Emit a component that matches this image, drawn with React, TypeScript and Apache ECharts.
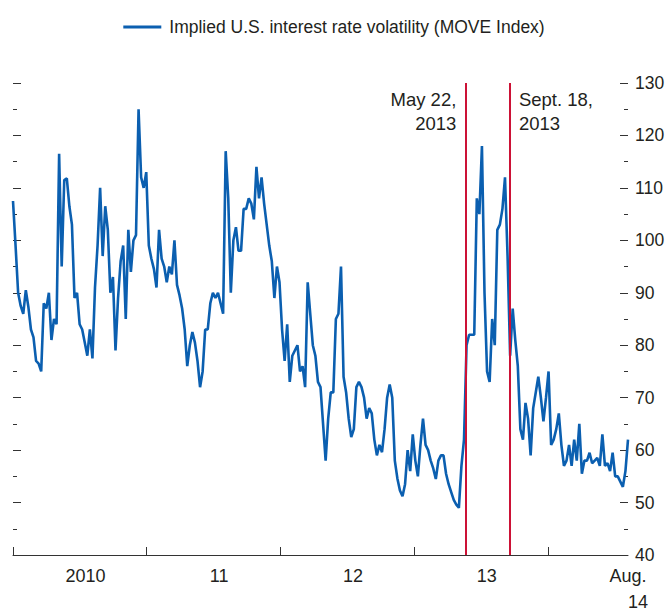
import React, { useEffect, useRef } from 'react';
import * as echarts from 'echarts';

const seriesName = 'Implied U.S. interest rate volatility (MOVE Index)';
const firstWeek = '2010-01-01';
const lastWeek = '2014-08-08';

// Weekly readings of the MOVE index (one value per week from firstWeek)
const move2010 = [
  107.5, 99, 90, 87.5, 86, 90.5, 87.3, 83, 81.5, 77, 76.5, 75, 88, 87, 90, 81, 85, 84, 116.5, 95,
  111.5, 111.8, 106.5, 103, 89, 90, 84, 83, 80.5, 78, 83, 77.5, 91, 99, 110, 97, 106.5, 102, 90, 93,
  79, 89, 96, 99, 85, 102, 94, 100, 101, 125, 112, 110,
];
const move2011 = [
  113, 99, 96.5, 94.5, 91, 102, 96.5, 95, 92, 95, 93.5, 100, 91.5, 89.5, 87, 83, 76, 80, 82.5, 80.5,
  77, 72, 75, 83, 83, 88, 90, 89, 90, 88, 86, 117, 108, 90, 100, 102.5, 98, 98, 106, 106,
  108, 107, 104, 114, 108, 112, 107, 103, 99, 96, 89, 95,
];
const move2012 = [
  92, 83, 77, 84, 73, 78, 79, 80, 75, 76, 72, 92, 86, 80, 78, 73, 72, 65, 58, 66,
  71, 71, 85, 86, 95, 74, 71, 66, 62.5, 64, 72, 73, 72, 70, 66, 68, 67, 62, 59, 61,
  59.6, 64, 70, 72.5, 70, 58, 54.6, 52.3, 51.2, 53.5, 60, 56,
];
const move2013 = [
  63, 58, 55, 61, 66, 61, 60, 58, 56.5, 54.5, 58, 59, 59, 55.5, 53.5, 52, 50.5, 49.6, 49, 57,
  62, 80, 82, 82, 82, 108, 105, 118, 90, 75, 73, 85, 80, 102, 103, 106, 112, 97, 78, 87,
  81, 76, 64, 62, 69, 66, 59, 68, 71, 74, 70, 65.5,
];
const move2014 = [
  70, 75, 61, 62, 64, 67, 61, 57, 58, 61, 57, 62, 58, 65, 55.5, 58, 58, 59.5, 57.5, 58,
  58.5, 57, 63, 57, 57.5, 56, 59.5, 55, 55, 54, 53, 56, 62,
];

const yearTickDates = ['2010-01-01', '2011-01-01', '2012-01-01', '2013-01-01', '2014-01-01'];
const yearLabelDates = ['2010-07-18', '2011-07-18', '2012-07-18', '2013-07-18', '2014-08-08'];
const yearLabels = ['2010', '11', '12', '13', 'Aug.\n14'];

const eventDates = ['2013-05-22', '2013-09-18'];
const eventLabels = ['May 22,\n2013', 'Sept. 18,\n2013'];
const eventLabelLevel = 124.6;

const yMin = 40;
const yMax = 130;
const yStep = 10;

const FONT = "'Liberation Sans', Arial, sans-serif";
const BLUE = '#0b5fb0';
const RED = '#cc1236';
const TEXT = '#231f20';
const AXIS = '#333333';

const ts = (d: string) => new Date(d + 'T00:00:00Z').getTime();
const DAY = 86400000;

export default function App() {
  const ref = useRef<HTMLDivElement>(null);

  useEffect(() => {
    if (!ref.current) return;
    const chart = echarts.init(ref.current, undefined, { renderer: 'svg' });
    const values = [...move2010, ...move2011, ...move2012, ...move2013, ...move2014];
    const start = ts(firstWeek);
    const data = values.map((v, i) => [start + i * 7 * DAY, v]);
    const labelTs = yearLabelDates.map(ts);

    const yAxisBase = {
      type: 'value',
      min: yMin,
      max: yMax,
      interval: yStep,
      axisLine: { show: false },
      axisTick: { show: true, inside: true, length: 8, lineStyle: { color: AXIS, width: 1 } },
      minorTick: { show: true, splitNumber: 2, length: 4, lineStyle: { color: AXIS, width: 1 } },
      splitLine: { show: false },
    };

    chart.setOption({
      animation: false,
      textStyle: { fontFamily: FONT },
      legend: {
        data: [seriesName],
        top: 11,
        left: 'center',
        icon: 'rect',
        itemWidth: 38,
        itemHeight: 3,
        itemGap: 10,
        textStyle: { fontFamily: FONT, fontSize: 17.5, color: TEXT, lineHeight: 22, padding: [0, 0, 0, 3] },
      },
      grid: { left: 13, right: 40, top: 83, bottom: 54, containLabel: false },
      xAxis: {
        type: 'value',
        min: ts(firstWeek),
        max: ts(lastWeek),
        axisLine: { show: true, lineStyle: { color: AXIS, width: 1 } },
        axisTick: {
          show: true,
          inside: true,
          length: 8,
          customValues: yearTickDates.map(ts),
          lineStyle: { color: AXIS, width: 1 },
        },
        axisLabel: {
          customValues: labelTs,
          showMaxLabel: true,
          showMinLabel: true,
          hideOverlap: false,
          margin: 8,
          fontFamily: FONT,
          fontSize: 18,
          lineHeight: 26,
          color: TEXT,
          formatter: (val: number) => {
            const i = labelTs.findIndex((t) => Math.abs(t - val) < DAY);
            if (i < 0) return '';
            const lines = yearLabels[i].split('\n');
            return lines.length > 1 ? lines[0] + '\n{o|' + lines[1] + '}' : lines[0];
          },
          rich: {
            o: { fontFamily: FONT, fontSize: 18, lineHeight: 26, color: TEXT, padding: [0, 0, 0, 20] },
          },
        },
        splitLine: { show: false },
      },
      yAxis: [
        {
          ...yAxisBase,
          position: 'right',
          axisLabel: { show: true, margin: 7, fontFamily: FONT, fontSize: 17.5, color: TEXT },
        },
        {
          ...yAxisBase,
          position: 'left',
          axisLabel: { show: false },
        },
      ],
      series: [
        {
          name: seriesName,
          type: 'line',
          yAxisIndex: 0,
          data,
          showSymbol: false,
          symbol: 'none',
          lineStyle: { color: BLUE, width: 2.6 },
          itemStyle: { color: BLUE },
          markLine: {
            silent: true,
            symbol: ['none', 'none'],
            label: { show: false },
            lineStyle: { color: RED, width: 2, type: 'solid' },
            data: eventDates.map((d) => ({ xAxis: ts(d) })),
          },
        },
        {
          name: 'events',
          type: 'scatter',
          yAxisIndex: 0,
          symbolSize: 1,
          itemStyle: { color: 'rgba(0,0,0,0)', opacity: 1 },
          silent: true,
          z: 5,
          data: eventDates.map((d, i) => ({
            value: [ts(d), eventLabelLevel],
            label: {
              show: true,
              position: i === 0 ? 'left' : 'right',
              distance: 9,
              formatter: eventLabels[i],
              fontFamily: FONT,
              fontSize: 18.5,
              lineHeight: 24,
              color: TEXT,
              opacity: 1,
              align: i === 0 ? 'right' : 'left',
            },
          })),
        },
      ],
    });
    return () => chart.dispose();
  }, []);

  return (
    <div
      ref={ref}
      style={{ position: 'absolute', left: 0, top: 0, width: 668, height: 615, background: '#fff' }}
    />
  );
}
